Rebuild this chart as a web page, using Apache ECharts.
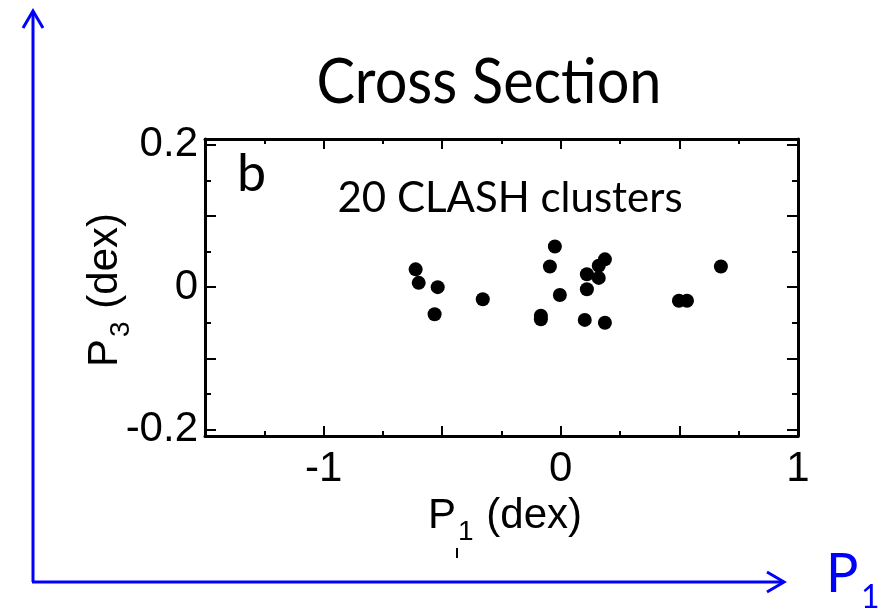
<!DOCTYPE html>
<html><head><meta charset="utf-8">
<script src="https://cdn.jsdelivr.net/npm/echarts@6/dist/echarts.min.js"></script>
<style>html,body{margin:0;padding:0;background:#fff}#c{width:886px;height:612px}</style>
</head><body><div id="c"></div>
<script>
const p1 = [-0.612,-0.599,-0.519,-0.532,-0.329,-0.084,-0.084,-0.025,-0.046,-0.004,0.110,0.110,0.160,0.160,0.186,0.101,0.186,0.498,0.532,0.675];
const p3 = [0.025,0.006,0.000,-0.038,-0.017,-0.040,-0.045,0.057,0.029,-0.011,0.018,-0.003,0.013,0.030,0.039,-0.046,-0.050,-0.019,-0.019,0.029];
const xLabels = [-1, 0, 1];
const xMajor = [-1, -0.5, 0, 0.5];
const xMinor = [-1.25,-0.75,-0.25,0.25,0.75];
const yLabels = [-0.2, 0, 0.2];
const yMajor = [-0.2,-0.1,0,0.1,0.2];
const yMinor = [-0.15,-0.05,0.05,0.15];
const titleText = 'Cross Section';
const panelLetter = 'b';
const sampleText = '20 CLASH clusters';

const chart = echarts.init(document.getElementById('c'), null, {renderer:'canvas'});
const X = {min:-1.5, max:1};
const Y = {min:-0.209, max:0.208};
const lblFont = {fontFamily:'Liberation Sans', fontSize:42, color:'#000'};
function xa(pos, ticks, len, labels, line){
  return {type:'value', position:pos, min:X.min, max:X.max, splitLine:{show:false},
    axisLine:{show:line, onZero:false, lineStyle:{color:'#000', width:3}},
    axisTick:{show:true, inside:true, length:len, customValues:ticks, lineStyle:{color:'#000', width:2}},
    axisLabel:labels ? Object.assign({show:true, customValues:xLabels, margin:12, formatter: v => String(v)}, lblFont) : {show:false}};
}
function ya(pos, ticks, len, labels, line){
  return {type:'value', position:pos, min:Y.min, max:Y.max, splitLine:{show:false},
    axisLine:{show:line, onZero:false, lineStyle:{color:'#000', width:3}},
    axisTick:{show:true, inside:true, length:len, customValues:ticks, lineStyle:{color:'#000', width:2}},
    axisLabel:labels ? Object.assign({show:true, customValues:yLabels, margin:7, formatter: v => String(v)}, lblFont) : {show:false}};
}
const data = p1.map((x,i)=>[x, p3[i]]);
const richLbl = {a:{fontFamily:'Liberation Sans', fontSize:42, fill:'#000'}, s:{fontFamily:'Liberation Sans', fontSize:28, fill:'#000', padding:[32,1,0,2]}};
chart.setOption({
  animation:false,
  grid:{left:205, top:139, width:593, height:297, containLabel:false},
  xAxis:[xa('bottom', xMinor, 5, true, true), xa('bottom', xMajor, 10, false, false),
         xa('top', xMinor, 5, false, true), xa('top', xMajor, 10, false, false)],
  yAxis:[ya('left', yMinor, 6, true, true), ya('left', yMajor, 11, false, false),
         ya('right', yMinor, 6, false, true), ya('right', yMajor, 11, false, false)],
  series:[{type:'scatter', xAxisIndex:0, yAxisIndex:0, data:data, symbol:'circle', symbolSize:14,
    itemStyle:{color:'#000', opacity:1}}],
  graphic:[
    {type:'text', x:489, y:83, scaleX:0.93, style:{text:titleText, x:0, y:0, fontFamily:'Lato', fontSize:62, fill:'#000', align:'center', verticalAlign:'middle'}},
    {type:'text', style:{text:panelLetter, x:237, y:174, fontFamily:'Lato', fontSize:52, fill:'#000', align:'left', verticalAlign:'middle'}},
    {type:'text', style:{text:sampleText, x:510, y:198, fontFamily:'Lato', fontSize:42, fill:'#000', align:'center', verticalAlign:'middle'}},
    {type:'text', style:{text:'{a|P}{s|1}{a| (dex)}', x:505, y:516, align:'center', verticalAlign:'middle', rich:richLbl}},
    {type:'text', rotation:Math.PI/2, x:105, y:290, style:{text:'{a|P}{s|3}{a| (dex)}', x:0, y:0, align:'center', verticalAlign:'middle', rich:richLbl}},
    {type:'polyline', shape:{points:[[33,582],[33,11]]}, style:{stroke:'#0000ff', lineWidth:3}},
    {type:'polyline', shape:{points:[[23,28],[33,11],[43,28]]}, style:{stroke:'#0000ff', lineWidth:3, fill:null}},
    {type:'polyline', shape:{points:[[32,582],[784,582]]}, style:{stroke:'#0000ff', lineWidth:3}},
    {type:'polyline', shape:{points:[[767,572],[784,582],[767,592]]}, style:{stroke:'#0000ff', lineWidth:3, fill:null}},
    {type:'text', style:{text:'P', x:826, y:575, fontFamily:'Lato', fontSize:54, fill:'#0000ff', align:'left', verticalAlign:'middle'}},
    {type:'text', style:{text:'1', x:861, y:598, fontFamily:'Lato', fontSize:32, fill:'#0000ff', align:'left', verticalAlign:'middle'}},
    {type:'line', shape:{x1:457, y1:548, x2:457, y2:558}, style:{stroke:'#000', lineWidth:2}}
  ]
});
</script></body></html>
